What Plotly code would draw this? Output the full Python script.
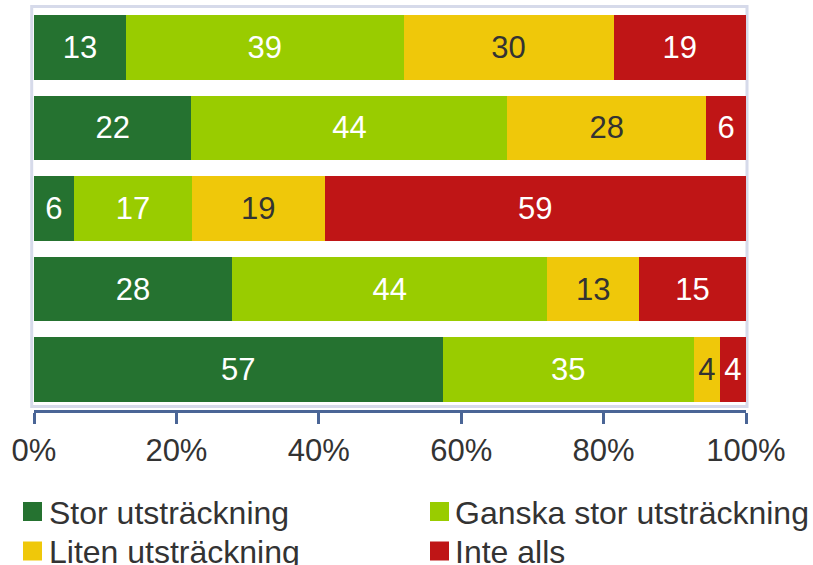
import plotly.graph_objects as go

# ---- data ----
rows = ["Rad 1", "Rad 2", "Rad 3", "Rad 4", "Rad 5"]
series_names = ["Stor utsträckning", "Ganska stor utsträckning",
                "Liten utsträckning", "Inte alls"]
stor = [12.9, 22.1, 5.6, 27.8, 57.4]
ganska = [39.0, 44.4, 16.6, 44.3, 35.3]
liten = [29.5, 27.9, 18.6, 12.9, 3.6]
inte = [18.6, 5.6, 59.2, 15.0, 3.7]
tick_vals = [0, 20, 40, 60, 80, 100]
tick_text = ["0%", "20%", "40%", "60%", "80%", "100%"]

# ---- styles ----
colors = ["#257230", "#99CC00", "#EFC80A", "#BF1516"]
label_colors = ["#FFFFFF", "#FFFFFF", "#333333", "#FFFFFF"]
FONT = "Liberation Sans, Arial, sans-serif"
W, H = 813, 565
ML, MR, MT, MB = 34, 67, 7, 155
PW, PH = W - ML - MR, H - MT - MB


def px_x(px):
    return (px - ML) / PW


def px_y(py):
    return (H - MB - py) / PH


fig = go.Figure()
for name, vals, col, lc in zip(series_names, [stor, ganska, liten, inte], colors, label_colors):
    fig.add_trace(go.Bar(
        y=rows, x=vals, name=name, orientation="h",
        marker=dict(color=col, line=dict(width=0)),
        text=[f"{v:.0f}" for v in vals],
        textposition="inside", insidetextanchor="middle", textangle=0,
        insidetextfont=dict(family=FONT, size=31, color=lc),
        showlegend=False, hoverinfo="x+name",
    ))

fig.update_layout(
    width=W, height=H,
    margin=dict(l=ML, r=MR, t=MT, b=MB, pad=0),
    barmode="stack", barnorm="percent", bargap=0.2,
    paper_bgcolor="white", plot_bgcolor="white",
    font=dict(family=FONT, color="#333333"),
    uniformtext=dict(minsize=31, mode="show"),
    xaxis=dict(range=[0, 100], tickvals=tick_vals, ticktext=tick_text,
               showgrid=False, zeroline=False, showline=True,
               linecolor="#4A6596", linewidth=3, ticks="outside",
               ticklen=11, tickwidth=3, tickcolor="#4A6596",
               tickfont=dict(family=FONT, size=31, color="#333333")),
    yaxis=dict(autorange="reversed", showticklabels=False, showgrid=False,
               zeroline=False, showline=False, ticks=""),
)

# light plot-area frame
fig.add_shape(type="rect", xref="paper", yref="paper",
              x0=px_x(31.7), x1=px_x(747), y0=px_y(406.5), y1=px_y(6.5),
              line=dict(color="#D6DAEA", width=3), layer="below")

# legend (two columns)
leg_pos = [(23, 49, 511.5), (430, 455, 511.5), (23, 49, 551), (430, 455, 551)]
for name, col, (mx, tx, cy) in zip(series_names, colors, leg_pos):
    fig.add_shape(type="rect", xref="paper", yref="paper",
                  x0=px_x(mx), x1=px_x(mx + 19), y0=px_y(cy + 9.5), y1=px_y(cy - 9.5),
                  line=dict(width=0), fillcolor=col)
    fig.add_annotation(xref="paper", yref="paper", x=px_x(tx - 2), y=px_y(cy + 1),
                       text=name, showarrow=False, xanchor="left", yanchor="middle",
                       font=dict(family=FONT, size=32, color="#333333"))

fig.write_html("out.html", config={"displayModeBar": False},
               post_script="document.body.style.margin='0px';document.body.style.overflow='hidden';")
